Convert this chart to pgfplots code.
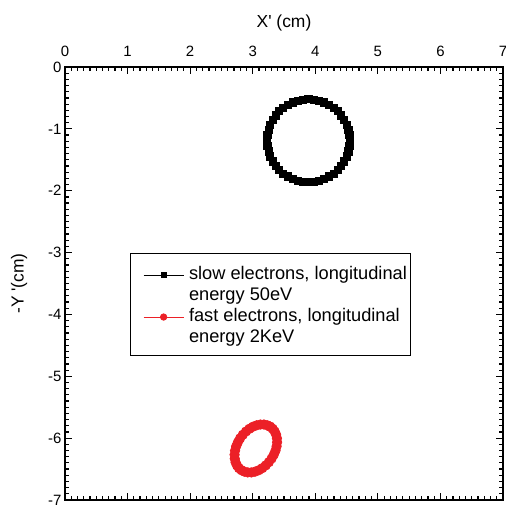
\documentclass[border=0pt]{standalone}
\usepackage{pgfplots}
\pgfplotsset{compat=1.18}
\usepackage{fontspec}
\setmainfont{Liberation Sans}
\definecolor{myred}{RGB}{236,32,39}
\pgfplotsset{
  sqlegend/.style={legend image code/.code={\path (0bp,0bp) (54bp,0bp);\draw[mark repeat=2,mark phase=2,##1,mark size=2.6bp] plot coordinates {(11bp,4.7bp) (31bp,4.7bp) (51bp,4.7bp)};}},
  circlegend/.style={legend image code/.code={\path (0bp,0bp) (54bp,0bp);\draw[mark repeat=2,mark phase=2,##1,mark size=3.2bp] plot coordinates {(11bp,4.7bp) (31bp,4.7bp) (51bp,4.7bp)};}},
}
\begin{document}
\begin{tikzpicture}
\path[use as bounding box] (-65bp,-6bp) rectangle (441bp,500bp);
\begin{axis}[
  at={(0,0)}, anchor=south west,
  width=438bp, height=433bp, scale only axis,
  xmin=0, xmax=7, ymin=-7, ymax=0,
  xtick={0,1,...,7}, ytick={-7,-6,...,0},
  minor x tick num=9, minor y tick num=9,
  tick align=inside,
  xticklabel pos=upper,
  major tick length=7bp, minor tick length=4bp,
  every tick/.style={line width=1.2bp, black},
  axis line style={line width=1.6bp},
  /pgf/number format/assume math mode=true,
  ticklabel style={font=\fontsize{15}{18}\selectfont},
  xticklabel style={yshift=7bp},
  xlabel={X\textquotesingle\ (cm)}, ylabel={-Y \textquotesingle(cm)},
  label style={font=\fontsize{17.5}{21}\selectfont},
  xlabel shift=8bp, ylabel shift=14bp,
  legend style={at={(rel axis cs:0.148,0.570)}, anchor=north west,
    draw=black, line width=0.8bp, font=\fontsize{18.3}{22}\selectfont,
    inner xsep=2bp, inner ysep=9bp,
    cells={anchor=base west, inner xsep=2bp, inner ysep=0pt, text height=15.4bp, text depth=6.6bp}},
]
\addplot[black, line width=0.8bp, mark=square*, mark size=3.6bp, sqlegend]
coordinates {
(4.550,-1.190) (4.544,-1.103) (4.528,-1.017) (4.500,-0.934) (4.462,-0.855) (4.414,-0.782)
(4.357,-0.716) (4.292,-0.658) (4.220,-0.610) (4.143,-0.571) (4.061,-0.543) (3.976,-0.526)
(3.890,-0.520) (3.804,-0.526) (3.719,-0.543) (3.637,-0.571) (3.560,-0.610) (3.488,-0.658)
(3.423,-0.716) (3.366,-0.782) (3.318,-0.855) (3.280,-0.934) (3.253,-1.017) (3.236,-1.103)
(3.230,-1.190) (3.236,-1.277) (3.253,-1.363) (3.280,-1.446) (3.318,-1.525) (3.366,-1.598)
(3.423,-1.664) (3.488,-1.722) (3.560,-1.770) (3.637,-1.809) (3.719,-1.837) (3.804,-1.854)
(3.890,-1.860) (3.976,-1.854) (4.061,-1.837) (4.143,-1.809) (4.220,-1.770) (4.292,-1.722)
(4.357,-1.664) (4.414,-1.598) (4.462,-1.525) (4.500,-1.446) (4.528,-1.363) (4.544,-1.277)
(4.550,-1.190)
};
\addlegendentry{slow electrons, longitudinal}
\addlegendimage{empty legend}
\addlegendentry{energy 50eV}
\addplot[myred, line width=0.8bp, mark=*, mark size=4.7bp, mark options={fill=myred, draw=myred}, circlegend]
coordinates {
(3.279,-5.815) (3.232,-5.792) (3.179,-5.780) (3.122,-5.780) (3.064,-5.792) (3.004,-5.815)
(2.947,-5.849) (2.892,-5.893) (2.842,-5.945) (2.798,-6.004) (2.763,-6.067) (2.735,-6.134)
(2.718,-6.202) (2.710,-6.268) (2.713,-6.332) (2.726,-6.390) (2.749,-6.442) (2.781,-6.486)
(2.821,-6.519) (2.868,-6.542) (2.921,-6.554) (2.978,-6.554) (3.036,-6.542) (3.096,-6.519)
(3.153,-6.485) (3.208,-6.441) (3.258,-6.389) (3.302,-6.330) (3.337,-6.267) (3.365,-6.200)
(3.382,-6.132) (3.390,-6.066) (3.387,-6.002) (3.374,-5.944) (3.351,-5.892) (3.319,-5.848)
(3.279,-5.815)
};
\addlegendentry{fast electrons, longitudinal}
\addlegendimage{empty legend}
\addlegendentry{energy 2KeV}
\end{axis}
\end{tikzpicture}
\end{document}
